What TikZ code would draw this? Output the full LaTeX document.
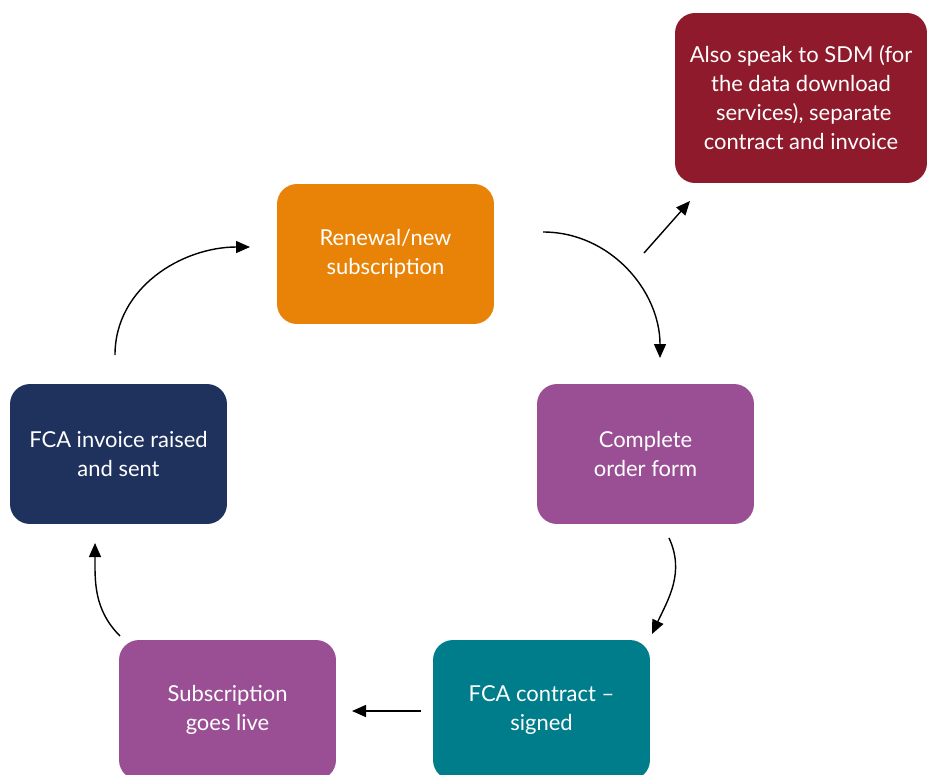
\documentclass[tikz,border=0pt]{standalone}
\usepackage{fontspec}
\setmainfont{Lato}
\usetikzlibrary{arrows.meta, positioning}
\definecolor{fcaOrange}{HTML}{E88307}
\definecolor{fcaPurple}{HTML}{9A4F94}
\definecolor{fcaNavy}{HTML}{1F325D}
\definecolor{fcaTeal}{HTML}{007D8B}
\definecolor{fcaRed}{HTML}{8E1A2C}
\tikzset{
  stage/.style     = {rounded corners=0.4cm, minimum width=4.34cm, minimum height=2.8cm,
                      text=white, align=center, font=\fontsize{12.5}{16.5}\selectfont},
  flow/.style      = {-{Triangle[length=0.28cm, width=0.24cm]}, line width=0.8pt, black},
}

\begin{document}
\begin{tikzpicture}[x=0.02cm,y=0.02cm]
  \useasboundingbox (0,0) rectangle (928,-774);
  \clip (0,0) rectangle (928,-774);
  % stages of the cycle
  \node[stage, fill=fcaOrange] (renewal) at (385.5,-254) {Renewal/new\\subscription};
  \node[stage, fill=fcaRed, minimum width=5.04cm, minimum height=3.4cm] (sdm) at (801,-98)
    {Also speak to SDM (for\\the data download\\\ services), separate\\contract and invoice};
  \node[stage, fill=fcaPurple] (order) at (645.5,-454) {Complete\\order form};
  \node[stage, fill=fcaTeal] (contract) at (541.5,-710) {FCA contract --\\signed};
  \node[stage, fill=fcaPurple] (live) at (227.5,-710) {Subscription\\goes live};
  \node[stage, fill=fcaNavy] (invoice) at (118.5,-454) {FCA invoice raised\\and sent};
  % arrow ends (the arrows stop short of the boxes)
  \coordinate (r1) at (543,-232);  \coordinate (o1) at (660,-358);
  \coordinate (r2) at (644,-253);  \coordinate (s1) at (690,-201);
  \coordinate (o2) at (669,-538);  \coordinate (c1) at (652,-634);
  \coordinate (c2) at (421,-711);  \coordinate (l1) at (352,-711);
  \coordinate (l2) at (120,-636);  \coordinate (i1) at (95,-543);
  \coordinate (i2) at (115,-355);  \coordinate (r3) at (250,-247);
  \draw[flow] (r1) to[out=0, in=90] (o1);
  \draw[flow] (r2) -- (s1);
  \draw[flow] (o2) to[out=-65, in=65] (c1);
  \draw[flow] (c2) -- (l1);
  \draw[flow] (l2) to[out=135, in=-90] (i1);
  \draw[flow] (i2) to[out=90, in=180] (r3);
\end{tikzpicture}
\end{document}
